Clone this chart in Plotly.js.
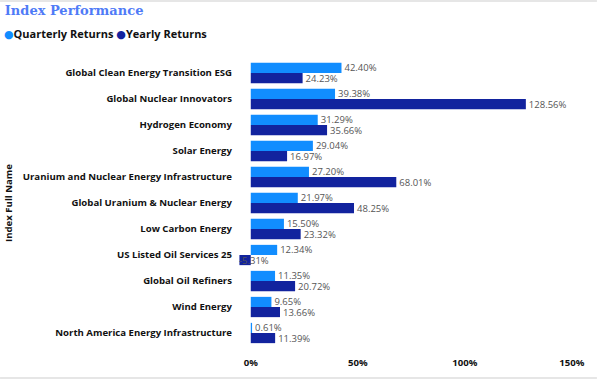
<!DOCTYPE html>
<html><head><meta charset="utf-8">
<script src="https://cdn.plot.ly/plotly-3.0.1.min.js"></script>
<style>html,body{margin:0;padding:0;background:#fff;}#chart{width:597px;height:380px;}</style>
</head><body><div id="chart"></div>
<script>
const categories = ["Global Clean Energy Transition ESG","Global Nuclear Innovators","Hydrogen Economy","Solar Energy","Uranium and Nuclear Energy Infrastructure","Global Uranium & Nuclear Energy","Low Carbon Energy","US Listed Oil Services 25","Global Oil Refiners","Wind Energy","North America Energy Infrastructure"];
const quarterly = [42.40,39.38,31.29,29.04,27.20,21.97,15.50,12.34,11.35,9.65,0.61];
const yearly = [24.23,128.56,35.66,16.97,68.01,48.25,23.32,-5.31,20.72,13.66,11.39];
const tickVals = [0,50,100,150];
const tickText = ["0%","50%","100%","150%"];
const seriesNames = ["Quarterly Returns","Yearly Returns"];
const seriesColors = ["#118DFF","#12239E"];

const labelFont = {family:"Open Sans, DejaVu Sans, sans-serif", size:9.5, color:"#555"};
const boldFont = {family:"Open Sans, DejaVu Sans, sans-serif", size:9.6, color:"#111", weight:"bold"};
function txt(arr){return arr.map(v=>v<0?"":v.toFixed(2)+"%");}
const traces = [quarterly,yearly].map((arr,k)=>({
  type:"bar",orientation:"h",name:seriesNames[k],y:categories,x:arr,marker:{color:seriesColors[k]},
  text:txt(arr),textposition:"outside",constraintext:"none",textfont:labelFont,cliponaxis:false,showlegend:false
}));
const annotations = [];
[[quarterly,5],[yearly,-5]].forEach(([arr,shift])=>{
 arr.forEach((v,i)=>{ if(v<0) annotations.push({x:v,y:categories[i],xref:"x",yref:"y",text:v.toFixed(2)+"%",showarrow:false,xanchor:"left",yshift:shift,xshift:-2,font:labelFont}); });
});
// legend drawn as text
annotations.push({xref:"paper",yref:"paper",x:-0.703,y:1.094,xanchor:"left",yanchor:"middle",showarrow:false,
  text:'<span style="color:'+seriesColors[0]+'">●</span>'+seriesNames[0]+' <span style="color:'+seriesColors[1]+'">●</span>'+seriesNames[1],
  font:{family:"Open Sans, DejaVu Sans, sans-serif",size:11,color:"#111",weight:"bold"}});
const layout = {
 width:597,height:380,
 margin:{l:239,r:21,t:60,b:34},
 paper_bgcolor:"#fff",plot_bgcolor:"#fff",
 title:{text:"<b>Index Performance</b>",font:{family:"DejaVu Serif, Liberation Serif, serif",size:13,color:"#4F7BF7"},x:0.008,xanchor:"left",y:0.985,yanchor:"top"},
 barmode:"group",bargap:0.22,bargroupgap:0,
 showlegend:false,
 xaxis:{range:[-5.5,152],tickvals:tickVals,ticktext:tickText,showgrid:false,zeroline:false,showline:false,
   tickfont:boldFont,ticks:"",ticklabelstandoff:9},
 yaxis:{type:"category",autorange:"reversed",showgrid:false,zeroline:false,showline:false,ticks:"",
   tickfont:boldFont,ticklabelstandoff:6,
   title:{text:"Index Full Name",font:boldFont,standoff:8}},
 annotations:annotations,
 shapes:[
  {type:"line",xref:"paper",yref:"paper",x0:-0.709,x1:1.062,y0:1.206,y1:1.206,line:{color:"#e6e6e6",width:2}},
  {type:"line",xref:"paper",yref:"paper",x0:-0.709,x1:1.062,y0:-0.112,y1:-0.112,line:{color:"#e6e6e6",width:2}}
 ]
};
Plotly.newPlot("chart",traces,layout,{displayModeBar:false,staticPlot:true});
</script></body></html>
